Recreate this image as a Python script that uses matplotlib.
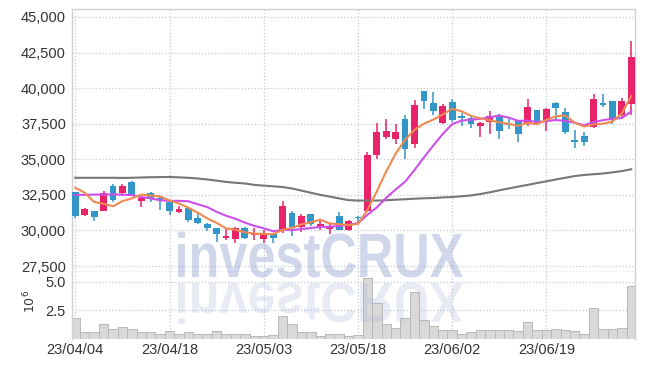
import matplotlib
matplotlib.use('Agg')
import matplotlib.pyplot as plt
from matplotlib.textpath import TextPath
from matplotlib.patches import PathPatch
from matplotlib.font_manager import FontProperties
from matplotlib.transforms import Affine2D

dates = ['23/04/04', '23/04/05', '23/04/06', '23/04/07', '23/04/10', '23/04/11', '23/04/12', '23/04/13', '23/04/14', '23/04/17',
         '23/04/18', '23/04/19', '23/04/20', '23/04/21', '23/04/24', '23/04/25', '23/04/26', '23/04/27', '23/04/28', '23/05/02',
         '23/05/03', '23/05/04', '23/05/08', '23/05/09', '23/05/10', '23/05/11', '23/05/12', '23/05/15', '23/05/16', '23/05/17',
         '23/05/18', '23/05/19', '23/05/22', '23/05/23', '23/05/24', '23/05/25', '23/05/26', '23/05/30', '23/05/31', '23/06/01',
         '23/06/02', '23/06/05', '23/06/07', '23/06/08', '23/06/09', '23/06/12', '23/06/13', '23/06/14', '23/06/15', '23/06/16',
         '23/06/19', '23/06/20', '23/06/21', '23/06/22', '23/06/23', '23/06/26', '23/06/27', '23/06/28', '23/06/29', '23/06/30']

opens = [32680, 31100, 31350, 31400, 33100, 32650, 33400, 32050, 32650, 32250,
         32000, 31280, 31600, 30900, 30450, 30150, 29480, 29400, 30200, 29650,
         29400, 29770, 30000, 31230, 30250, 31130, 30250, 30100, 31000, 30000,
         30970, 31350, 35300, 36550, 36450, 37800, 36050, 39800, 38970, 37560,
         39050, 38030, 37870, 37350, 37610, 38080, 37500, 37700, 37470, 38450,
         37750, 38950, 38310, 36370, 36620, 37280, 38950, 39090, 38100, 38880]
highs = [32700, 31600, 31350, 32750, 33250, 33250, 33450, 32400, 32700, 32350,
         32050, 31720, 31650, 31200, 30550, 30150, 30170, 30250, 30250, 30150,
         30000, 29770, 32100, 31380, 31150, 31150, 30760, 30450, 31270, 30700,
         31000, 35500, 37550, 37800, 37500, 38100, 39200, 39800, 39740, 38900,
         39250, 38220, 38030, 37600, 38360, 38150, 37990, 37750, 39270, 38450,
         38600, 39050, 38610, 37040, 36900, 39560, 39560, 39100, 39320, 43330]
lows = [30850, 31000, 30650, 31400, 32000, 32400, 32400, 31650, 32000, 31450,
        31100, 31250, 30600, 30420, 29950, 29200, 29300, 29100, 29400, 29350,
        29150, 29100, 29850, 29580, 29900, 30300, 30050, 29770, 30000, 29950,
        30480, 31300, 35050, 36430, 36100, 35050, 35800, 38500, 38100, 37500,
        37650, 37330, 37210, 36570, 36800, 36450, 37100, 36220, 37350, 37400,
        37000, 37700, 36800, 35760, 35940, 37210, 38640, 37470, 38000, 38100]
closes = [30990, 31500, 30950, 32600, 32150, 33100, 32400, 32300, 32200, 32150,
          31400, 31530, 30700, 30500, 30150, 29780, 29620, 30200, 29500, 29770,
          29770, 29450, 31700, 30250, 31000, 30430, 30430, 30340, 30000, 30660,
          30850, 35300, 36950, 36970, 36900, 35750, 38800, 39100, 38400, 38730,
          37750, 37890, 37470, 37560, 38030, 37000, 37400, 36750, 38640, 37560,
          38520, 38620, 36930, 36230, 36220, 39230, 38800, 37750, 39090, 42200]

ma5 = [33000, 32650, 32000, 31880, 31700, 32060, 32250, 32520, 32450, 32400,
       32100, 31900, 31600, 31250, 30850, 30530, 30150, 30050, 29870, 29780,
       29760, 29740, 30040, 30180, 30430, 30570, 30760, 30490, 30440, 30380,
       30460, 31430, 32750, 34150, 35390, 36370, 37070, 37500, 37790, 38150,
       38550, 38370, 38050, 37870, 37740, 37590, 37490, 37350, 37560, 37460,
       37770, 38020, 38080, 37570, 37300, 37450, 37500, 37650, 38220, 39450]
ma10 = [32500, 32500, 32520, 32520, 32530, 32520, 32480, 32350, 32250, 32120,
        32080, 32080, 32050, 31840, 31640, 31310, 31030, 30820, 30550, 30320,
        30150, 29940, 30040, 30020, 30100, 30170, 30250, 30260, 30310, 30400,
        30510, 31100, 31620, 32290, 32880, 33420, 34250, 35130, 35970, 36780,
        37470, 37720, 37780, 37840, 37950, 38070, 37930, 37700, 37720, 37610,
        37680, 37760, 37700, 37570, 37390, 37610, 37750, 37850, 37900, 38360]
ma60 = [33700, 33700, 33700, 33700, 33700, 33690, 33700, 33720, 33740, 33750,
        33760, 33730, 33700, 33650, 33580, 33500, 33410, 33350, 33300, 33200,
        33150, 33100, 33050, 32950, 32800, 32650, 32500, 32380, 32250, 32130,
        32100, 32100, 32100, 32120, 32160, 32190, 32230, 32260, 32280, 32320,
        32350, 32400, 32460, 32560, 32680, 32820, 32950, 33080, 33200, 33330,
        33450, 33580, 33700, 33820, 33900, 33950, 34000, 34080, 34170, 34300]

# volume in millions of shares
volumes = [1.87, 0.57, 0.57, 1.28, 0.84, 1.07, 0.84, 0.57, 0.57, 0.48,
           0.72, 0.40, 0.57, 0.40, 0.40, 0.66, 0.48, 0.48, 0.48, 0.28,
           0.28, 0.37, 1.97, 1.28, 0.57, 0.57, 0.30, 0.40, 0.46, 0.26,
           0.37, 5.30, 3.10, 1.34, 0.99, 1.87, 4.07, 1.69, 1.16, 0.81,
           0.81, 0.48, 0.57, 0.75, 0.81, 0.81, 0.81, 0.72, 1.51, 0.81,
           0.81, 0.90, 0.81, 0.72, 0.45, 2.75, 0.90, 0.90, 0.99, 4.60]

price_ticks = [27500, 30000, 32500, 35000, 37500, 40000, 42500, 45000]
vol_ticks = [2.5, 5.0]

UP = '#e8236a'
DOWN = '#3396c8'
GRID = '#c6c9dc'
SPINE = '#cfcfd6'

plt.rcParams['font.family'] = ['Liberation Sans', 'DejaVu Sans']


def main():
    fig = plt.figure(figsize=(6.45, 3.66), dpi=100)
    W, H = 645, 366
    left, right = 71.5, 635
    ax = fig.add_axes([left / W, 1 - 272 / H, (right - left) / W, (272 - 9) / H])
    axv = fig.add_axes([left / W, 1 - 339 / H, (right - left) / W, (339 - 272) / H], sharex=ax)

    x = list(range(len(dates)))

    # candles
    for i in x:
        o, h, l, c = opens[i], highs[i], lows[i], closes[i]
        col = UP if c >= o else DOWN
        ax.vlines(i, l, h, color=col, lw=1.1, zorder=3)
        body = max(abs(c - o), 40)
        ax.bar(i, body, bottom=min(o, c), width=0.72, color=col, zorder=3)

    ax.plot(x, ma60, color='#777777', lw=1.5, zorder=4)
    ax.plot(x, ma10, color='#cc4fea', lw=1.5, zorder=4)
    ax.plot(x, ma5, color='#ef8a50', lw=1.5, zorder=5)

    ax.set_ylim(27080, 45560)
    ax.set_xlim(-0.4, len(dates) - 0.6)
    ax.set_yticks(price_ticks)
    ax.set_yticklabels([f'{v:,}' for v in price_ticks])

    # volume
    axv.bar(x, volumes, width=1.0, color='#d9d9d9', edgecolor='#b8b8b8', lw=0.7, zorder=2)
    axv.set_ylim(0, 5.85)
    axv.set_yticks(vol_ticks)
    axv.set_yticklabels([f'{v:.1f}' for v in vol_ticks])
    fig.text(30 / W, 1 - 301 / H, r'$10^6$', rotation=90, ha='center', va='center',
             fontsize=9, color='#333333')

    tick_idx = x[::10]
    axv.set_xticks(tick_idx)
    axv.set_xticklabels([dates[i] for i in tick_idx])
    ax.tick_params(axis='x', labelbottom=False)

    for a in (ax, axv):
        a.grid(True, ls=':', color=GRID, lw=0.9, zorder=0)
        a.set_axisbelow(True)
        a.tick_params(length=0, labelsize=10.5, colors='#333333', pad=4)
        for s in a.spines.values():
            s.set_color(SPINE)
            s.set_linewidth(1.0)
    axv.spines['bottom'].set_visible(False)
    axv.spines['top'].set_visible(False)
    axv.tick_params(axis='x', pad=3)

    # watermark with its mirror image
    prop = FontProperties(family=['Liberation Sans Narrow', 'Liberation Sans'], weight='bold')
    tp = TextPath((0, 0), 'investCRUX', size=1, prop=prop)
    ext = tp.get_extents()
    sx = (463 - 178) / ext.width
    sy = 46 / ext.height
    base = H - 277
    tr = Affine2D().translate(-ext.x0, 0).scale(sx, sy).translate(178, base).scale(1 / 100) + fig.dpi_scale_trans
    fig.add_artist(PathPatch(tp, transform=tr, facecolor='#8c9ccb', edgecolor='none', alpha=0.4, zorder=10))
    tr2 = Affine2D().translate(-ext.x0, 0).scale(sx, -sy * 0.9).translate(178, base - 6).scale(1 / 100) + fig.dpi_scale_trans
    fig.add_artist(PathPatch(tp, transform=tr2, facecolor='#a7b3d6', edgecolor='none', alpha=0.25, zorder=10))

    fig.savefig('out.png', dpi=100)


if __name__ == '__main__':
    main()
